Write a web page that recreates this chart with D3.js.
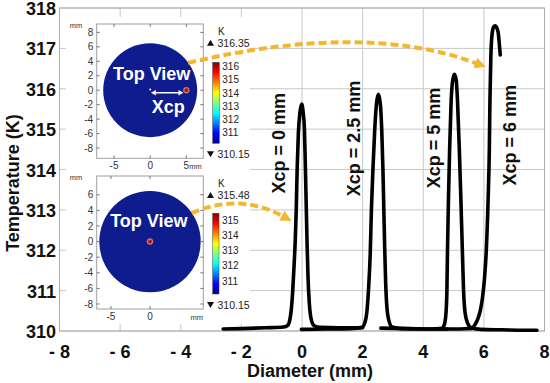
<!DOCTYPE html>
<html>
<head>
<meta charset="utf-8">
<script src="https://cdn.jsdelivr.net/npm/d3@7"></script>
<style>
body { margin: 0; background: #fff; }
svg { display: block; font-family: "Liberation Sans", Arial, sans-serif; }
</style>
</head>
<body>
<div id="chart"></div>
<script>
// main axes
var xTicks = [-8, -6, -4, -2, 0, 2, 4, 6, 8];
var xTickLabels = ["- 8", "- 6", "- 4", "- 2", "0", "2", "4", "6", "8"];
var yTicks = [310, 311, 312, 313, 314, 315, 316, 317, 318];

// temperature profiles [diameter mm, temperature K]
var profXcp0 = [[-2.6, 310.05], [-2.0, 310.06], [-1.2, 310.08], [-0.6, 310.1], [-0.47, 310.14], [-0.4, 310.28],
  [-0.35, 310.55], [-0.31, 310.95], [-0.27, 311.5], [-0.22, 312.3], [-0.19, 313.0], [-0.16, 314.0], [-0.12, 314.9],
  [-0.07, 315.4], [-0.01, 315.62], [0.04, 315.4], [0.08, 315.0], [0.11, 314.1], [0.14, 313.1], [0.17, 312.1],
  [0.2, 311.3], [0.24, 310.7], [0.3, 310.3], [0.4, 310.13], [0.6, 310.09], [1.2, 310.08], [2.0, 310.08]];
var profXcp25 = [[-0.02, 310.04], [0.8, 310.05], [1.6, 310.06], [1.98, 310.09], [2.08, 310.22], [2.15, 310.55],
  [2.2, 311.1], [2.25, 311.9], [2.29, 313.0], [2.34, 314.0], [2.4, 315.0], [2.46, 315.65], [2.52, 315.86],
  [2.58, 315.65], [2.63, 315.0], [2.67, 314.0], [2.7, 313.0], [2.73, 312.0], [2.76, 311.2], [2.8, 310.6],
  [2.87, 310.25], [2.97, 310.1], [3.3, 310.06], [4.0, 310.05], [4.8, 310.05]];
var profXcp5 = [[2.6, 310.07], [3.5, 310.06], [4.3, 310.05], [4.62, 310.07], [4.7, 310.17], [4.75, 310.45],
  [4.78, 311.0], [4.8, 312.0], [4.83, 313.2], [4.87, 314.5], [4.92, 315.7], [4.97, 316.2], [5.03, 316.36],
  [5.09, 316.2], [5.13, 315.7], [5.19, 314.5], [5.24, 313.3], [5.29, 312.0], [5.33, 311.0], [5.38, 310.45],
  [5.46, 310.2], [5.58, 310.08], [5.9, 310.04], [6.6, 310.03], [7.3, 310.02], [7.75, 310.02]];
var profXcp6 = [[4.4, 310.05], [5.2, 310.05], [5.6, 310.06], [5.7, 310.15], [5.8, 310.3], [5.88, 310.5],
  [5.95, 310.8], [6.02, 311.3], [6.08, 312.0], [6.14, 313.25], [6.18, 314.5], [6.2, 315.7], [6.23, 316.8],
  [6.27, 317.35], [6.32, 317.53], [6.37, 317.56], [6.43, 317.5], [6.48, 317.35], [6.51, 317.1], [6.54, 316.84]];
var profiles = [profXcp0, profXcp25, profXcp5, profXcp6];

var peakLabels = ["Xcp = 0 mm", "Xcp = 2.5 mm", "Xcp = 5 mm", "Xcp = 6 mm"];
var peakLabelAt = [[-0.78, 314.65], [1.69, 314.77], [4.33, 314.78], [6.84, 314.85]];

// dashed call-out arrows: start, control, end (mm, K)
var arrowTop = [[-3.76, 316.64], [2.05, 317.67], [6.0, 316.56]];
var arrowBottom = [[-3.64, 312.92], [-2.07, 313.43], [-0.40, 312.75]];

// insets
var diskR = 6.5;
var inset1YTicks = [8, 6, 4, 2, 0, -2, -4, -6, -8];
var inset1XTicks = [-5, 0, 5];
var inset2YTicks = [6, 4, 2, 0, -2, -4, -6, -8];
var inset2XTicks = [-5, 0];
var cbar1Ticks = [316, 315, 314, 313, 312, 311];
var cbar1Range = [310.15, 316.35];
var cbar2Ticks = [315, 314, 313, 312, 311];
var cbar2Range = [310.15, 315.48];
var jetStops = ["#00008f", "#0000ff", "#0080ff", "#00ffff", "#80ff80", "#ffff00", "#ff8000", "#ff0000", "#800000"];

var W = 550, H = 383;
var svg = d3.select("#chart").append("svg").attr("width", W).attr("height", H);
var defs = svg.append("defs");

var x = d3.scaleLinear().domain([-8, 8]).range([59.5, 544.5]);
var y = d3.scaleLinear().domain([310, 318]).range([331, 8]);

// grid
svg.append("g").selectAll("line.gx").data(xTicks).enter().append("line")
  .attr("x1", function(d){ return x(d); }).attr("x2", function(d){ return x(d); })
  .attr("y1", y(310)).attr("y2", y(318))
  .attr("stroke", "#c8c8c8").attr("stroke-width", 1);
svg.append("g").selectAll("line.gy").data(yTicks).enter().append("line")
  .attr("x1", x(-8)).attr("x2", x(8))
  .attr("y1", function(d){ return y(d); }).attr("y2", function(d){ return y(d); })
  .attr("stroke", "#c8c8c8").attr("stroke-width", 1);
svg.append("rect").attr("x", x(-8)).attr("y", y(318)).attr("width", x(8) - x(-8)).attr("height", y(310) - y(318))
  .attr("fill", "none").attr("stroke", "#aaa").attr("stroke-width", 1);

// tick labels
svg.append("g").selectAll("text").data(yTicks).enter().append("text")
  .attr("x", 56).attr("y", function(d){ return y(d) + 7; })
  .attr("text-anchor", "end").attr("font-size", 18).attr("font-weight", "bold").attr("fill", "#111")
  .text(function(d){ return d; });
svg.append("g").selectAll("text").data(xTicks).enter().append("text")
  .attr("x", function(d){ return x(d); }).attr("y", 357.5)
  .attr("text-anchor", "middle").attr("font-size", 18).attr("font-weight", "bold").attr("fill", "#111")
  .text(function(d, i){ return xTickLabels[i]; });
svg.append("text").attr("x", 310).attr("y", 376.5).attr("text-anchor", "middle")
  .attr("font-size", 18).attr("font-weight", "bold").attr("fill", "#111").text("Diameter (mm)");
svg.append("text").attr("transform", "translate(19,183) rotate(-90)").attr("text-anchor", "middle")
  .attr("font-size", 18).attr("font-weight", "bold").attr("fill", "#111").text("Temperature (K)");

// gradients
var jet = defs.append("linearGradient").attr("id", "jet").attr("x1", 0).attr("y1", 1).attr("x2", 0).attr("y2", 0);
jetStops.forEach(function(c, i){
  jet.append("stop").attr("offset", i / (jetStops.length - 1)).attr("stop-color", c);
});
var diskColor = "#0f1c8e";
var hot = defs.append("radialGradient").attr("id", "hot");
hot.append("stop").attr("offset", 0).attr("stop-color", "#a80000");
hot.append("stop").attr("offset", 0.4).attr("stop-color", "#c81808");
hot.append("stop").attr("offset", 0.65).attr("stop-color", "#d08a78");
hot.append("stop").attr("offset", 1).attr("stop-color", diskColor);

function tri(g, cx, cy, up){
  var h = 6, w = 7;
  var p = up ? [[cx - w/2, cy + h/2], [cx + w/2, cy + h/2], [cx, cy - h/2]]
             : [[cx - w/2, cy - h/2], [cx + w/2, cy - h/2], [cx, cy + h/2]];
  g.append("path").attr("d", "M" + p.join("L") + "Z").attr("fill", "#111");
}

function drawInset(o){
  var g = svg.append("g");
  g.append("rect").attr("x", o.bg[0]).attr("y", o.bg[1]).attr("width", o.bg[2]).attr("height", o.bg[3]).attr("fill", "#fff");
  var sx = d3.scaleLinear().domain(o.xDom).range([o.frame[0], o.frame[2]]);
  var sy = d3.scaleLinear().domain(o.yDom).range([o.frame[3], o.frame[1]]);
  g.append("ellipse").attr("cx", sx(0)).attr("cy", sy(0))
    .attr("rx", sx(diskR) - sx(0)).attr("ry", sy(0) - sy(diskR)).attr("fill", diskColor);
  g.append("circle").attr("cx", sx(o.hot[0])).attr("cy", sy(o.hot[1])).attr("r", 3.8).attr("fill", "url(#hot)");
  g.append("rect").attr("x", o.frame[0]).attr("y", o.frame[1])
    .attr("width", o.frame[2] - o.frame[0]).attr("height", o.frame[3] - o.frame[1])
    .attr("fill", "none").attr("stroke", "#a0a0a0").attr("stroke-width", 1);
  o.yTicks.forEach(function(t){
    g.append("line").attr("x1", o.frame[0]).attr("x2", o.frame[0] + 3).attr("y1", sy(t)).attr("y2", sy(t)).attr("stroke", "#777");
    g.append("line").attr("x1", o.frame[2] - 3).attr("x2", o.frame[2]).attr("y1", sy(t)).attr("y2", sy(t)).attr("stroke", "#777");
    g.append("text").attr("x", o.frame[0] - 3.5).attr("y", sy(t) + 3.5).attr("text-anchor", "end")
      .attr("font-size", 10).attr("fill", "#333").text(t);
  });
  o.xTicks.forEach(function(t){
    g.append("line").attr("x1", sx(t)).attr("x2", sx(t)).attr("y1", o.frame[3]).attr("y2", o.frame[3] - 3).attr("stroke", "#777");
    g.append("line").attr("x1", sx(t)).attr("x2", sx(t)).attr("y1", o.frame[1]).attr("y2", o.frame[1] + 3).attr("stroke", "#777");
    g.append("text").attr("x", sx(t)).attr("y", o.frame[3] + 11).attr("text-anchor", "middle")
      .attr("font-size", 10).attr("fill", "#333").text(t);
  });
  g.append("text").attr("x", 76).attr("y", o.frame[1] + 4).attr("text-anchor", "middle")
    .attr("font-size", 7.5).attr("fill", "#333").text("mm");
  g.append("text").attr("x", o.mmX).attr("y", o.frame[3] + 11).attr("text-anchor", "middle")
    .attr("font-size", 7.5).attr("fill", "#333").text("mm");
  // colour bar
  var cs = d3.scaleLinear().domain(o.cRange).range([o.cbar[3], o.cbar[1]]);
  g.append("rect").attr("x", o.cbar[0]).attr("y", o.cbar[1]).attr("width", o.cbar[2] - o.cbar[0])
    .attr("height", o.cbar[3] - o.cbar[1]).attr("fill", "url(#jet)").attr("stroke", "#444").attr("stroke-width", 0.5);
  o.cTicks.forEach(function(t){
    g.append("text").attr("x", o.cbar[2] + 3).attr("y", cs(t) + 3.5).attr("font-size", 10).attr("fill", "#222").text(t);
  });
  g.append("text").attr("x", 218).attr("y", o.kY + 3.5).attr("font-size", 10).attr("fill", "#222").text("K");
  tri(g, 210.5, o.maxY, true);
  g.append("text").attr("x", 217.5).attr("y", o.maxY + 4).attr("font-size", 10.5).attr("fill", "#222").text(o.cRange[1].toFixed(2));
  tri(g, 210.5, o.minY, false);
  g.append("text").attr("x", 217.5).attr("y", o.minY + 4).attr("font-size", 10.5).attr("fill", "#222").text(o.cRange[0].toFixed(2));
  g.append("text").attr("x", o.tvX).attr("y", o.tvY + 6.5).attr("text-anchor", "middle")
    .attr("font-size", 18).attr("font-weight", "bold").attr("fill", "#fff").text("Top View");
  return { g: g, sx: sx, sy: sy };
}

var in1 = drawInset({ bg: [66, 17, 184, 154], frame: [96.7, 24, 203.3, 158.3], xDom: [-7.4, 7.35], yDom: [-9.42, 9.16],
  hot: [5, 0], yTicks: inset1YTicks, xTicks: inset1XTicks, mmX: 195.5, cbar: [212.7, 62.3, 219.3, 143.3],
  cRange: cbar1Range, cTicks: cbar1Ticks, kY: 31.7, maxY: 42.7, minY: 154.3, tvX: 151.7, tvY: 73.3 });
var in2 = drawInset({ bg: [66, 171, 184, 153], frame: [96.7, 176, 203.3, 309], xDom: [-6.83, 6.83], yDom: [-8.64, 8.41],
  hot: [0, 0], yTicks: inset2YTicks, xTicks: inset2XTicks, mmX: 196.7, cbar: [212.7, 213.3, 219, 294],
  cRange: cbar2Range, cTicks: cbar2Ticks, kY: 183.3, maxY: 195, minY: 305, tvX: 148.8, tvY: 220.7 });

// Xcp arrow inside first inset
(function(){
  var g = in1.g, ay = in1.sy(-0.35), x0 = in1.sx(0.1), x1 = in1.sx(4.6);
  g.append("line").attr("x1", x0 + 3).attr("x2", x1 - 3).attr("y1", ay).attr("y2", ay).attr("stroke", "#fff").attr("stroke-width", 1.5);
  g.append("path").attr("d", "M" + x0 + "," + ay + "l5,-2.8l0,5.6Z").attr("fill", "#fff");
  g.append("path").attr("d", "M" + x1 + "," + ay + "l-5,-2.8l0,5.6Z").attr("fill", "#fff");
  g.append("circle").attr("cx", in1.sx(0)).attr("cy", in1.sy(0.1)).attr("r", 0.9).attr("fill", "#fff");
  g.append("text").attr("x", 168.3).attr("y", 113).attr("text-anchor", "middle")
    .attr("font-size", 18).attr("font-weight", "bold").attr("fill", "#fff").text("Xcp");
})();

// profiles
var line = d3.line().x(function(d){ return x(d[0]); }).y(function(d){ return y(d[1]); }).curve(d3.curveMonotoneX);
svg.append("g").selectAll("path").data(profiles).enter().append("path")
  .attr("d", line).attr("fill", "none").attr("stroke", "#000").attr("stroke-width", 3.6)
  .attr("stroke-linejoin", "round").attr("stroke-linecap", "round");

// peak labels
svg.append("g").selectAll("text").data(peakLabels).enter().append("text")
  .attr("transform", function(d, i){
    return "translate(" + (x(peakLabelAt[i][0]) + 6.5) + "," + y(peakLabelAt[i][1]) + ") rotate(-90)";
  })
  .attr("text-anchor", "middle").attr("font-size", 18).attr("font-weight", "bold").attr("fill", "#111")
  .text(function(d){ return d; });

// dashed call-out arrows
function callout(a){
  var p = a.map(function(d){ return [x(d[0]), y(d[1])]; });
  var dx = p[2][0] - p[1][0], dy = p[2][1] - p[1][1], len = Math.sqrt(dx * dx + dy * dy);
  var ux = dx / len, uy = dy / len;
  var bx = p[2][0] - ux * 8, by = p[2][1] - uy * 8;
  svg.append("path")
    .attr("d", "M" + p[0] + "Q" + p[1] + " " + bx + "," + by)
    .attr("fill", "none").attr("stroke", "#f3b62c").attr("stroke-width", 4).attr("stroke-dasharray", "8,4");
  var hx = p[2][0] + ux * 2, hy = p[2][1] + uy * 2;
  var lx = hx - ux * 11, ly = hy - uy * 11;
  svg.append("path")
    .attr("d", "M" + hx + "," + hy + "L" + (lx - uy * 5.5) + "," + (ly + ux * 5.5) + "L" + (lx + uy * 5.5) + "," + (ly - ux * 5.5) + "Z")
    .attr("fill", "#f3b62c");
}
callout(arrowTop);
callout(arrowBottom);
</script>
</body>
</html>
